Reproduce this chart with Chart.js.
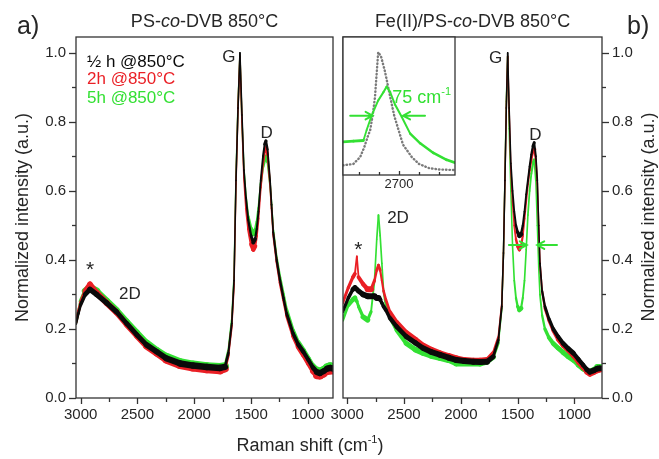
<!DOCTYPE html>
<html>
<head>
<meta charset="utf-8">
<script src="https://cdn.jsdelivr.net/npm/chart.js@4.4.1/dist/chart.umd.min.js"></script>
<style>
  html, body { margin: 0; padding: 0; background: #fff; }
  #wrap { position: relative; width: 659px; height: 459px; }
  #wrap canvas { position: absolute; left: 0; top: 0; }
</style>
</head>
<body>
<div id="wrap">
  <canvas id="panelA" width="659" height="459"></canvas>
  <canvas id="panelB" width="659" height="459"></canvas>
  <canvas id="inset" width="659" height="459"></canvas>
</div>
<script>
// panel a) PS-co-DVB 850°C
var shiftA = [3041, 3020, 3000, 2960, 2918, 2860, 2770, 2685, 2595, 2505, 2420, 2330, 2245, 2125, 2010, 1890, 1775, 1730, 1700, 1670, 1650, 1633, 1615, 1598, 1580, 1563, 1545, 1525, 1500, 1481, 1465, 1450, 1435, 1415, 1395, 1380, 1369, 1355, 1333, 1320, 1305, 1275, 1246, 1215, 1187, 1130, 1085, 1040, 995, 955, 920, 895, 860, 830, 805, 777];
var halfHourA = [0.215, 0.245, 0.27, 0.3, 0.315, 0.3, 0.275, 0.25, 0.216, 0.183, 0.154, 0.134, 0.115, 0.1, 0.094, 0.09, 0.087, 0.09, 0.13, 0.216, 0.34, 0.63, 0.84, 1.0, 0.82, 0.66, 0.58, 0.516, 0.47, 0.45, 0.46, 0.49, 0.54, 0.63, 0.7, 0.735, 0.745, 0.72, 0.63, 0.56, 0.48, 0.4, 0.342, 0.29, 0.245, 0.187, 0.155, 0.134, 0.11, 0.088, 0.075, 0.072, 0.078, 0.085, 0.087, 0.085];
var twoHourA = [0.22, 0.25, 0.275, 0.31, 0.33, 0.305, 0.275, 0.248, 0.213, 0.18, 0.15, 0.13, 0.11, 0.095, 0.088, 0.083, 0.08, 0.085, 0.125, 0.21, 0.33, 0.62, 0.84, 0.99, 0.8, 0.64, 0.55, 0.49, 0.445, 0.43, 0.44, 0.47, 0.52, 0.61, 0.68, 0.715, 0.725, 0.705, 0.62, 0.55, 0.475, 0.395, 0.335, 0.285, 0.24, 0.18, 0.148, 0.125, 0.1, 0.078, 0.066, 0.065, 0.07, 0.078, 0.08, 0.08];
var fiveHourA = [0.22, 0.25, 0.28, 0.31, 0.32, 0.31, 0.282, 0.255, 0.222, 0.19, 0.16, 0.138, 0.12, 0.104, 0.097, 0.092, 0.09, 0.092, 0.135, 0.225, 0.35, 0.64, 0.85, 0.99, 0.8, 0.66, 0.58, 0.525, 0.49, 0.475, 0.485, 0.51, 0.55, 0.62, 0.67, 0.69, 0.7, 0.685, 0.62, 0.56, 0.485, 0.405, 0.35, 0.3, 0.255, 0.195, 0.16, 0.138, 0.114, 0.092, 0.08, 0.077, 0.083, 0.09, 0.092, 0.09];

// panel b) Fe(II)/PS-co-DVB 850°C
var shiftB = [3040, 2990, 2950, 2932, 2915, 2900, 2860, 2820, 2790, 2760, 2740, 2725, 2710, 2695, 2680, 2660, 2625, 2565, 2480, 2400, 2330, 2260, 2185, 2110, 2040, 1970, 1890, 1830, 1770, 1715, 1670, 1640, 1625, 1612, 1600, 1588, 1575, 1560, 1545, 1530, 1515, 1500, 1485, 1470, 1455, 1440, 1425, 1410, 1395, 1380, 1365, 1354, 1340, 1327, 1315, 1304, 1285, 1260, 1225, 1187, 1145, 1100, 1055, 1010, 965, 925, 890, 865, 830, 800, 776];
var halfHourB = [0.25, 0.29, 0.315, 0.32, 0.315, 0.31, 0.3, 0.295, 0.295, 0.295, 0.29, 0.29, 0.285, 0.275, 0.265, 0.255, 0.232, 0.207, 0.178, 0.16, 0.144, 0.133, 0.125, 0.117, 0.11, 0.107, 0.105, 0.104, 0.105, 0.12, 0.168, 0.265, 0.42, 0.63, 0.84, 1.0, 0.84, 0.68, 0.6, 0.54, 0.5, 0.48, 0.47, 0.475, 0.5, 0.54, 0.59, 0.63, 0.67, 0.705, 0.73, 0.74, 0.7, 0.63, 0.5, 0.39, 0.31, 0.265, 0.23, 0.2, 0.178, 0.158, 0.143, 0.13, 0.112, 0.096, 0.082, 0.076, 0.08, 0.085, 0.086];
var twoHourB = [0.275, 0.32, 0.35, 0.36, 0.41, 0.35, 0.33, 0.315, 0.315, 0.34, 0.37, 0.385, 0.37, 0.34, 0.31, 0.285, 0.25, 0.22, 0.19, 0.17, 0.152, 0.14, 0.13, 0.122, 0.115, 0.11, 0.108, 0.108, 0.11, 0.13, 0.175, 0.27, 0.42, 0.63, 0.84, 0.99, 0.83, 0.66, 0.57, 0.5, 0.46, 0.44, 0.43, 0.44, 0.47, 0.52, 0.57, 0.62, 0.66, 0.69, 0.715, 0.72, 0.69, 0.62, 0.5, 0.39, 0.31, 0.26, 0.225, 0.195, 0.17, 0.152, 0.138, 0.122, 0.103, 0.088, 0.075, 0.07, 0.075, 0.08, 0.082];
var fiveHourB = [0.225, 0.27, 0.285, 0.29, 0.28, 0.265, 0.235, 0.226, 0.25, 0.34, 0.46, 0.53, 0.47, 0.39, 0.31, 0.265, 0.235, 0.196, 0.158, 0.14, 0.13, 0.122, 0.116, 0.11, 0.1, 0.1, 0.1, 0.1, 0.105, 0.118, 0.16, 0.26, 0.42, 0.64, 0.86, 0.99, 0.78, 0.6, 0.44, 0.34, 0.29, 0.265, 0.255, 0.26, 0.29, 0.34, 0.43, 0.53, 0.6, 0.65, 0.68, 0.69, 0.63, 0.5, 0.38, 0.3, 0.24, 0.2, 0.175, 0.158, 0.145, 0.132, 0.12, 0.11, 0.095, 0.085, 0.078, 0.076, 0.082, 0.09, 0.09];

// inset of b): 2D band, grey reference points and 5h spectrum
var insetShiftGrey = [2840, 2814, 2797, 2787, 2778, 2772, 2765, 2760, 2752, 2745, 2735, 2722, 2712, 2701, 2690, 2668, 2650, 2625, 2600, 2560];
var insetGrey = [0.07, 0.08, 0.13, 0.2, 0.28, 0.325, 0.45, 0.566, 0.89, 0.86, 0.75, 0.566, 0.43, 0.325, 0.22, 0.13, 0.08, 0.05, 0.04, 0.036];
var insetShiftGreen = [2840, 2814, 2789, 2781, 2768, 2752, 2739, 2731, 2722, 2710, 2693, 2672, 2647, 2614, 2581, 2560];
var insetGreen = [0.24, 0.245, 0.25, 0.325, 0.434, 0.54, 0.6, 0.64, 0.6, 0.51, 0.42, 0.3, 0.23, 0.16, 0.11, 0.09];

var xTicks = [3000, 2500, 2000, 1500, 1000];
var yTicks = [0.0, 0.2, 0.4, 0.6, 0.8, 1.0];
var insetTicks = [2700];
var insetMarks = [2800, 2750, 2700, 2650, 2600];
var legendLabels = ["\u00bd h @850\u00b0C", "2h @850\u00b0C", "5h @850\u00b0C"];

var FONT = "'Liberation Sans', Arial, Helvetica, sans-serif";
var INK = "#262626";
var AXIS = "#333333";
var BLACK = "#0a0a0a", RED = "#ea1f25", GREEN = "#33e033", GREY = "#7a7a7a";

function isMajor(v, list) {
  return list.some(function (m) { return Math.abs(m - v) < 1e-6; });
}

// major ticks plus one minor tick between each pair
function withMinor(list) {
  var out = [];
  list.forEach(function (v, i) {
    out.push(v);
    if (i < list.length - 1) out.push((v + list[i + 1]) / 2);
  });
  return out;
}

// thinner band on steep flanks, like the noise band of the spectra
function bandWidth(base) {
  return function (c) {
    var dx = c.p1.x - c.p0.x, dy = c.p1.y - c.p0.y;
    var len = Math.sqrt(dx * dx + dy * dy) || 1;
    return 1.4 + (base - 1.4) * Math.abs(dx) / len;
  };
}

function series(xs, ys, color, base) {
  return {
    data: xs.map(function (x, i) { return { x: x, y: ys[i] }; }),
    borderColor: color,
    borderWidth: base,
    borderCapStyle: "round",
    borderJoinStyle: "round",
    pointRadius: 0,
    tension: 0,
    segment: { borderWidth: bandWidth(base) }
  };
}

function fixedTicks(values) {
  return function (s) { s.ticks = values.map(function (v) { return { value: v }; }); };
}

function xScale(min, max) {
  return {
    type: "linear", reverse: true, min: min, max: max,
    afterFit: function (s) { s.height = 61; },
    afterBuildTicks: fixedTicks(withMinor(xTicks)),
    grid: { display: false, drawTicks: false },
    border: { display: false },
    ticks: {
      autoSkip: false, maxRotation: 0, padding: 8,
      color: INK, font: { family: FONT, size: 15 },
      callback: function (v) { return isMajor(v, xTicks) ? String(v) : ""; }
    }
  };
}

function yScale(pos) {
  return {
    type: "linear", position: pos, min: 0, max: 1.046,
    afterFit: function (s) { s.width = pos === "left" ? 76 : 57; },
    afterBuildTicks: fixedTicks(withMinor(yTicks)),
    grid: { display: false, drawTicks: false },
    border: { display: false },
    ticks: {
      autoSkip: false, padding: 10,
      color: INK, font: { family: FONT, size: 15 },
      callback: function (v) { return isMajor(v, yTicks) ? v.toFixed(1) : ""; }
    },
    title: {
      display: pos === "left", text: "Normalized intensity (a.u.)", color: INK,
      font: { family: FONT, size: 18 }, padding: { top: 12, bottom: 0 }
    }
  };
}

function marksPlugin(axes) {
  return {
    id: "marks",
    afterDraw: function (chart) {
      var ctx = chart.ctx, a = chart.chartArea;
      ctx.save();
      ctx.strokeStyle = AXIS;
      ctx.lineWidth = 1.3;
      axes.forEach(function (ax) {
        var scale = chart.scales[ax.id];
        scale.ticks.forEach(function (t) {
          var len = (isMajor(t.value, ax.labels) ? ax.long : ax.short) * (ax.inward ? -1 : 1);
          var p = Math.round(scale.getPixelForValue(t.value)) + 0.5;
          ctx.beginPath();
          if (scale.isHorizontal()) { ctx.moveTo(p, a.bottom); ctx.lineTo(p, a.bottom + len); }
          else if (scale.position === "left") { ctx.moveTo(a.left, p); ctx.lineTo(a.left - len, p); }
          else { ctx.moveTo(a.right, p); ctx.lineTo(a.right + len, p); }
          ctx.stroke();
        });
      });
      ctx.strokeRect(a.left, a.top, a.right - a.left, a.bottom - a.top);
      ctx.restore();
    }
  };
}

function fontOf(p, size) {
  return (p.style || "normal") + " normal " + (p.size || size) + "px " + FONT;
}

function drawRich(ctx, parts, x, y, align, color, size) {
  parts = parts.map(function (p) { return typeof p === "string" ? { t: p } : p; });
  var widths = parts.map(function (p) { ctx.font = fontOf(p, size); return ctx.measureText(p.t).width; });
  var total = widths.reduce(function (s, w) { return s + w; }, 0);
  var cx = align === "center" ? x - total / 2 : (align === "right" ? x - total : x);
  ctx.fillStyle = color;
  ctx.textAlign = "left";
  ctx.textBaseline = "middle";
  parts.forEach(function (p, i) {
    ctx.font = fontOf(p, size);
    ctx.fillText(p.t, cx, y + (p.dy || 0));
    cx += widths[i];
  });
}

function drawArrow(ctx, x0, y0, x1, y1, color) {
  var ang = Math.atan2(y1 - y0, x1 - x0), h = 8;
  ctx.save();
  ctx.strokeStyle = color;
  ctx.lineWidth = 2;
  ctx.lineCap = "round";
  ctx.beginPath();
  ctx.moveTo(x0, y0); ctx.lineTo(x1, y1);
  ctx.moveTo(x1 - h * Math.cos(ang - 0.5), y1 - h * Math.sin(ang - 0.5));
  ctx.lineTo(x1, y1);
  ctx.lineTo(x1 - h * Math.cos(ang + 0.5), y1 - h * Math.sin(ang + 0.5));
  ctx.stroke();
  ctx.restore();
}

function notesPlugin(items) {
  return {
    id: "notes",
    afterDraw: function (chart) {
      var ctx = chart.ctx, sx = chart.scales.x, sy = chart.scales.y;
      items.forEach(function (n) {
        ctx.save();
        if (n.arrow) {
          drawArrow(ctx, sx.getPixelForValue(n.from[0]), sy.getPixelForValue(n.from[1]),
            sx.getPixelForValue(n.to[0]), sy.getPixelForValue(n.to[1]), n.color);
        } else {
          var x = n.px ? n.x : sx.getPixelForValue(n.x);
          var y = n.px ? n.y : sy.getPixelForValue(n.y);
          if (n.rotate) {
            ctx.translate(x, y);
            ctx.rotate(-Math.PI / 2);
            x = 0; y = 0;
          }
          drawRich(ctx, n.parts, x, y, n.align || "center", n.color || INK, n.size || 17);
        }
        ctx.restore();
      });
    }
  };
}

var baseOptions = {
  responsive: false,
  animation: false,
  events: [],
  plugins: { legend: { display: false }, tooltip: { enabled: false } }
};

function options(padding, scales) {
  return Object.assign({}, baseOptions, { layout: { padding: padding }, scales: scales });
}

var sup = { t: "-1", size: 11, dy: -6 };

new Chart(document.getElementById("panelA"), {
  type: "line",
  data: { datasets: [
    series(shiftA, halfHourA, BLACK, 6.5),
    series(shiftA, twoHourA, RED, 8),
    series(shiftA, fiveHourA, GREEN, 8)
  ] },
  options: options({ left: 0, top: 37, right: 326, bottom: 0 }, { x: xScale(779, 3041), y: yScale("left") }),
  plugins: [
    marksPlugin([
      { id: "x", labels: xTicks, long: 6, short: 4 },
      { id: "y", labels: yTicks, long: 7, short: 4 }
    ]),
    notesPlugin([
      { px: true, x: 204.5, y: 22, size: 18, parts: ["PS-", { t: "co", style: "italic" }, "-DVB 850\u00b0C"] },
      { px: true, x: 17, y: 27, size: 25, align: "left", parts: ["a)"] },
      { px: true, x: 310, y: 446, size: 18, parts: ["Raman shift (cm", sup, ")"] },
      { x: 2944, y: 0.974, align: "left", color: BLACK, parts: [legendLabels[0]] },
      { x: 2944, y: 0.922, align: "left", color: RED, parts: [legendLabels[1]] },
      { x: 2944, y: 0.867, align: "left", color: GREEN, parts: [legendLabels[2]] },
      { x: 1695, y: 0.988, parts: ["G"] },
      { x: 1363, y: 0.768, parts: ["D"] },
      { x: 2918, y: 0.37, size: 21, parts: ["*"] },
      { x: 2566, y: 0.30, parts: ["2D"] }
    ])
  ]
});

new Chart(document.getElementById("panelB"), {
  type: "line",
  data: { datasets: [
    series(shiftB, halfHourB, BLACK, 6),
    series(shiftB, twoHourB, RED, 6),
    series(shiftB, fiveHourB, GREEN, 6)
  ] },
  options: options({ left: 343, top: 37, right: 0, bottom: 0 }, { x: xScale(758, 3037), y: yScale("right") }),
  plugins: [
    marksPlugin([
      { id: "x", labels: xTicks, long: 6, short: 4 },
      { id: "y", labels: yTicks, long: 7, short: 4 }
    ]),
    notesPlugin([
      { px: true, x: 472.5, y: 22, size: 18, parts: ["Fe(II)/PS-", { t: "co", style: "italic" }, "-DVB 850\u00b0C"] },
      { px: true, x: 627, y: 27, size: 25, align: "left", parts: ["b)"] },
      { px: true, x: 649, y: 217, size: 18, rotate: true, parts: ["Normalized intensity (a.u.)"] },
      { x: 1695, y: 0.983, parts: ["G"] },
      { x: 1345, y: 0.762, parts: ["D"] },
      { x: 2903, y: 0.428, size: 21, parts: ["*"] },
      { x: 2553, y: 0.522, parts: ["2D"] },
      { arrow: true, from: [1577, 0.443], to: [1420, 0.443], color: GREEN },
      { arrow: true, from: [1154, 0.443], to: [1328, 0.443], color: GREEN }
    ])
  ]
});

var insetGreyLine = {
  data: insetShiftGrey.map(function (x, i) { return { x: x, y: insetGrey[i] }; }),
  borderColor: GREY, borderWidth: 2.4, borderDash: [0.5, 3], borderCapStyle: "round",
  pointRadius: 0, tension: 0
};
var insetGreenLine = series(insetShiftGreen, insetGreen, GREEN, 2.8);

new Chart(document.getElementById("inset"), {
  type: "line",
  data: { datasets: [insetGreenLine, insetGreyLine] },
  options: options({ left: 343, top: 37, right: 204, bottom: 264 }, {
    x: {
      type: "linear", reverse: true, min: 2560, max: 2840,
      afterFit: function (s) { s.height = 20; },
      afterBuildTicks: fixedTicks(insetMarks),
      grid: { display: false, drawTicks: false },
      border: { display: false },
      ticks: {
        autoSkip: false, maxRotation: 0, padding: 2,
        color: INK, font: { family: FONT, size: 13 },
        callback: function (v) { return isMajor(v, insetTicks) ? String(v) : ""; }
      }
    },
    y: { display: false, min: 0, max: 1 }
  }),
  plugins: [
    {
      id: "insetBg",
      beforeDraw: function (chart) {
        var a = chart.chartArea;
        chart.ctx.save();
        chart.ctx.fillStyle = "#fff";
        chart.ctx.fillRect(a.left, a.top, a.right - a.left, a.bottom - a.top);
        chart.ctx.restore();
      }
    },
    marksPlugin([{ id: "x", labels: insetTicks, long: 4, short: 3, inward: true }]),
    notesPlugin([
      { x: 2717, y: 0.56, size: 18, align: "left", color: GREEN, parts: ["75 cm", { t: "-1", size: 11, dy: -6 }] },
      { arrow: true, from: [2822, 0.43], to: [2766, 0.43], color: GREEN },
      { arrow: true, from: [2635, 0.43], to: [2690, 0.43], color: GREEN }
    ])
  ]
});
</script>
</body>
</html>
